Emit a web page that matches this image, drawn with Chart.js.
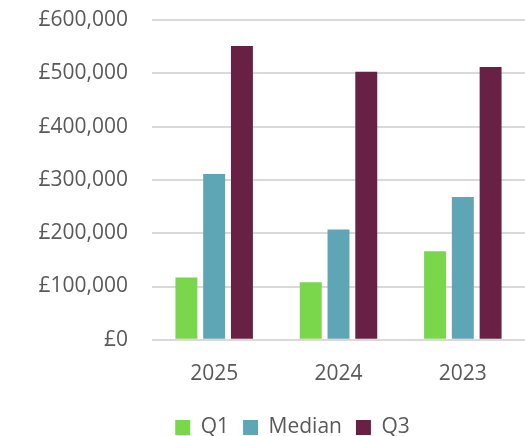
<!DOCTYPE html>
<html>
<head>
<meta charset="utf-8">
<script src="https://cdn.jsdelivr.net/npm/chart.js@4/dist/chart.umd.min.js"></script>
<style>
  html, body { margin: 0; padding: 0; background: #fff; }
  #wrap { width: 525px; height: 436px; }
</style>
</head>
<body>
<div id="wrap"><canvas id="chart"></canvas></div>
<script>
// Years shown on the x axis
const years = ['2025', '2024', '2023'];

// Series values (GBP)
const q1 = [117000, 108000, 166000];
const median = [311000, 207000, 268000];
const q3 = [551000, 503000, 512000];

// Y axis range
const yMin = 0;
const yMax = 600000;
const yStep = 100000;

const textColor = '#595959';
const fontFamily = '"Open Sans", "Liberation Sans", sans-serif';

// nudges the legend so it sits where Excel put it
const legendShift = {
    id: 'legendShift',
    afterLayout(chart) {
        const lg = chart.legend;
        if (!lg) return;
        lg.left += 30;
        lg.right += 30;
        lg.top -= 6;
        lg.bottom -= 6;
    }
};

new Chart(document.getElementById('chart'), {
    type: 'bar',
    data: {
        labels: years,
        datasets: [
            { label: 'Q1', data: q1, backgroundColor: '#7AD64A' },
            { label: 'Median', data: median, backgroundColor: '#5EA5B5' },
            { label: 'Q3', data: q3, backgroundColor: '#682145' }
        ]
    },
    plugins: [legendShift],
    options: {
        responsive: true,
        maintainAspectRatio: false,
        animation: false,
        barPercentage: 0.79,
        categoryPercentage: 0.67,
        layout: {
            padding: { left: 0, top: 20, right: 0, bottom: -18 }
        },
        plugins: {
            legend: {
                position: 'bottom',
                labels: {
                    boxWidth: 15,
                    boxHeight: 15,
                    padding: 14,
                    color: textColor,
                    font: { family: fontFamily, size: 21 }
                }
            },
            tooltip: { enabled: false }
        },
        scales: {
            x: {
                grid: { display: false, drawTicks: false },
                border: { display: false },
                ticks: {
                    color: textColor,
                    padding: 22,
                    font: { family: fontFamily, size: 21 }
                }
            },
            y: {
                min: yMin,
                max: yMax,
                afterFit: (scale) => {
                    scale.width = 152;
                    scale.paddingTop = 0;
                },
                grid: { color: '#d9d9d9', lineWidth: 2, drawTicks: false },
                border: { display: false },
                ticks: {
                    stepSize: yStep,
                    color: textColor,
                    padding: 24,
                    font: { family: fontFamily, size: 21 },
                    callback: (v) => '£' + Number(v).toLocaleString('en-GB')
                }
            }
        }
    }
});
</script>
</body>
</html>
